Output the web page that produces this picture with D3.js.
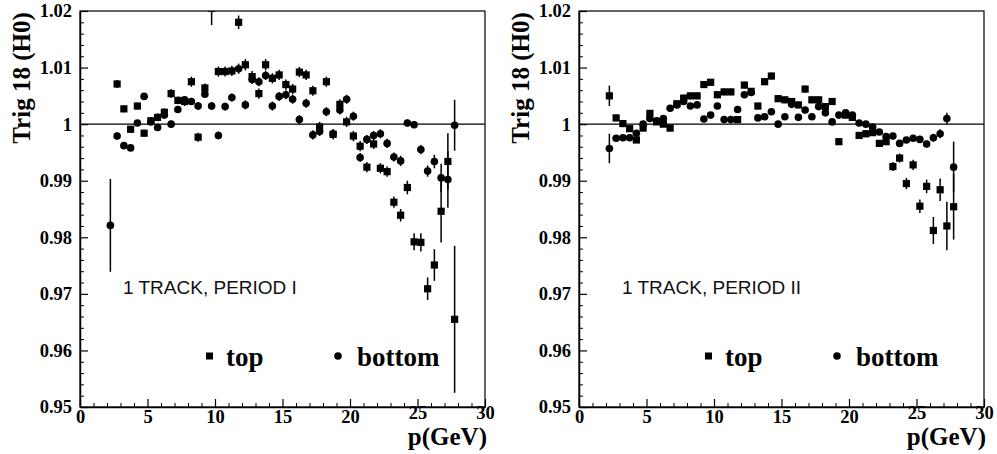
<!DOCTYPE html>
<html>
<head>
<meta charset="utf-8">
<script src="https://cdn.jsdelivr.net/npm/d3@7/dist/d3.min.js"></script>
<style>
  body { margin: 0; background: #fff; }
</style>
</head>
<body>
<div id="chart"></div>
<script>
// bin centres (GeV)
var pBins = [2.25,2.75,3.25,3.75,4.25,4.75,5.25,5.75,6.25,6.75,7.25,7.75,8.25,8.75,9.25,9.75,10.25,10.75,11.25,11.75,12.25,12.75,13.25,13.75,14.25,14.75,15.25,15.75,16.25,16.75,17.25,17.75,18.25,18.75,19.25,19.75,20.25,20.75,21.25,21.75,22.25,22.75,23.25,23.75,24.25,24.75,25.25,25.75,26.25,26.75,27.25,27.75];

// period I
var p1Top = [null,1.0071,1.0027,0.9991,1.0032,0.9984,1.0006,1.0012,1.0021,1.0054,1.0042,1.0040,1.0075,0.9977,1.0064,1.0205,1.0093,1.0093,1.0094,1.0180,1.0105,1.0084,1.0054,1.0105,1.0081,1.0087,1.0070,1.0062,1.0092,1.0087,1.0059,0.9995,1.0075,0.9982,1.0035,1.0004,0.9979,0.9961,0.9924,0.9965,0.9922,0.9916,0.9862,0.9839,0.9888,0.9792,0.9791,0.9709,0.9751,0.9846,0.9934,0.9655];
var p1TopErr = [null,0.0007,0.0006,0.0006,0.0006,0.0006,0.0006,0.0007,0.0007,0.0008,0.0007,0.0008,0.0009,0.0008,0.0008,0.003,0.0009,0.0009,0.0009,0.0012,0.001,0.001,0.0009,0.001,0.0009,0.0009,0.0009,0.0009,0.0009,0.0009,0.0009,0.0009,0.0009,0.0009,0.0009,0.0009,0.0009,0.0009,0.0009,0.0009,0.0009,0.0009,0.001,0.0011,0.0012,0.0015,0.0016,0.002,0.0028,0.0055,0.005,0.013];
var p1Bot = [0.9821,0.9979,0.9962,0.9958,1.0002,1.0049,1.0004,0.9994,1.0016,1.0000,1.0026,1.0043,1.0040,1.0032,1.0053,1.0032,0.9980,1.0031,1.0047,1.0098,1.0034,1.0079,1.0075,1.0086,1.0032,1.0049,1.0052,1.0044,1.0008,1.0037,0.9981,0.9987,1.0022,0.9983,1.0025,1.0044,1.0014,0.9941,0.9973,0.9980,0.9983,0.9966,0.9942,0.9935,1.0002,0.9999,0.9955,0.9917,0.9934,0.9905,0.9902,0.9998];
var p1BotErr = [0.0082,0.0006,0.0005,0.0005,0.0005,0.0006,0.0005,0.0005,0.0006,0.0006,0.0006,0.0006,0.0006,0.0007,0.0007,0.0007,0.0007,0.0007,0.0007,0.0009,0.0008,0.0008,0.0008,0.0008,0.0008,0.0008,0.0008,0.0008,0.0008,0.0008,0.0008,0.0008,0.0008,0.0008,0.0008,0.0008,0.0008,0.0008,0.0008,0.0008,0.0008,0.0008,0.0008,0.0009,0.0006,0.0006,0.0008,0.001,0.0012,0.0025,0.005,0.0045];

// period II
var p2Top = [1.0050,1.0011,1.0001,0.9992,0.9972,0.9993,1.0019,1.0004,1.0000,0.9993,1.0036,1.0046,1.0050,1.0050,1.0070,1.0074,1.0052,1.0057,1.0057,1.0008,1.0069,1.0058,1.0032,1.0075,1.0085,1.0045,1.0043,1.0040,1.0034,1.0062,1.0043,1.0043,1.0031,1.0040,0.9969,1.0016,1.0012,0.9980,0.9983,0.9985,0.9966,0.9969,0.9925,0.9940,0.9895,0.9928,0.9855,0.9890,0.9812,0.9884,0.9820,0.9854];
var p2TopErr = [0.0018,0.0006,0.0005,0.0005,0.0005,0.0005,0.0005,0.0005,0.0005,0.0005,0.0006,0.0006,0.0006,0.0006,0.0006,0.0006,0.0006,0.0006,0.0006,0.0006,0.0006,0.0006,0.0006,0.0006,0.0006,0.0006,0.0006,0.0006,0.0006,0.0006,0.0006,0.0006,0.0006,0.0006,0.0006,0.0006,0.0006,0.0006,0.0006,0.0006,0.0006,0.0006,0.0008,0.0008,0.001,0.0009,0.0012,0.0012,0.0024,0.002,0.0043,0.0058];
var p2Bot = [0.9957,0.9975,0.9976,0.9976,0.9984,1.0000,1.0010,1.0006,1.0010,1.0028,1.0034,1.0040,1.0032,1.0034,1.0009,1.0016,1.0032,1.0008,1.0008,1.0026,1.0052,1.0056,1.0011,1.0013,1.0022,1.0000,1.0013,1.0035,1.0012,1.0025,1.0013,1.0031,1.0020,1.0004,1.0016,1.0020,1.0016,1.0002,1.0000,0.9995,0.9986,0.9978,0.9979,0.9966,0.9972,0.9975,0.9973,0.9965,0.9976,0.9983,1.0010,0.9924];
var p2BotErr = [0.0026,0.0005,0.0005,0.0005,0.0005,0.0005,0.0005,0.0005,0.0005,0.0005,0.0005,0.0005,0.0005,0.0005,0.0005,0.0005,0.0005,0.0005,0.0005,0.0005,0.0005,0.0005,0.0005,0.0005,0.0005,0.0005,0.0005,0.0005,0.0005,0.0005,0.0005,0.0005,0.0005,0.0005,0.0005,0.0005,0.0005,0.0005,0.0005,0.0005,0.0005,0.0005,0.0005,0.0005,0.0005,0.0005,0.0006,0.0006,0.0007,0.0008,0.001,0.0045];

// axis ticks + labels
var yMajor = [0.95,0.96,0.97,0.98,0.99,1.00,1.01,1.02];
var yLabels = ["0.95","0.96","0.97","0.98","0.99","1","1.01","1.02"];
var yMinor = [0.952,0.954,0.956,0.958,0.962,0.964,0.966,0.968,0.972,0.974,0.976,0.978,0.982,0.984,0.986,0.988,0.992,0.994,0.996,0.998,1.002,1.004,1.006,1.008,1.012,1.014,1.016,1.018];
var xMajor = [0,5,10,15,20,25,30];
var xLabels = ["0","5","10","15","20","25","30"];
var xMinor = [1,2,3,4,6,7,8,9,11,12,13,14,16,17,18,19,21,22,23,24,26,27,28,29];

var panels = [
    { x0: 80,  label: "1 TRACK, PERIOD I",  top: p1Top, topErr: p1TopErr, bot: p1Bot, botErr: p1BotErr },
    { x0: 579, label: "1 TRACK, PERIOD II", top: p2Top, topErr: p2TopErr, bot: p2Bot, botErr: p2BotErr }
];

var width = 997, height = 454;
var plotW = 405, yTop = 11, yBot = 407;
var serif = "'Liberation Serif', 'DejaVu Serif', serif";

var svg = d3.select("#chart").append("svg")
    .attr("width", width)
    .attr("height", height);

var yScale = d3.scaleLinear().domain([0.95, 1.02]).range([yBot, yTop]);

function styleTicks(g) {
    g.selectAll(".tick text")
        .attr("fill", "#000")
        .style("font-family", serif)
        .style("font-weight", "bold")
        .style("font-size", "18.5px");
    g.selectAll(".tick line").attr("stroke-width", 1.2);
}

panels.forEach(function(pn, k) {
    var xScale = d3.scaleLinear().domain([0, 30]).range([pn.x0, pn.x0 + plotW]);

    svg.append("clipPath").attr("id", "clip" + k)
        .append("rect")
        .attr("x", pn.x0).attr("y", yTop)
        .attr("width", plotW).attr("height", yBot - yTop);

    // frame
    svg.append("rect")
        .attr("x", pn.x0).attr("y", yTop)
        .attr("width", plotW).attr("height", yBot - yTop)
        .attr("fill", "none").attr("stroke", "#000").attr("stroke-width", 1.2);

    // y axis (ticks point inside)
    var yAxis = d3.axisLeft(yScale)
        .tickValues(yMajor)
        .tickSize(-8).tickSizeOuter(0).tickPadding(8)
        .tickFormat(function(d, i) { return yLabels[i]; });
    var gy = svg.append("g").attr("transform", "translate(" + pn.x0 + ",0)").call(yAxis);
    gy.select(".domain").attr("stroke-width", 1.5);
    styleTicks(gy);
    svg.append("g").attr("transform", "translate(" + pn.x0 + ",0)")
        .call(d3.axisLeft(yScale).tickValues(yMinor).tickSize(-4).tickSizeOuter(0).tickFormat(""))
        .select(".domain").remove();

    // x axis
    var xAxis = d3.axisBottom(xScale)
        .tickValues(xMajor)
        .tickSize(-8).tickSizeOuter(0).tickPadding(3)
        .tickFormat(function(d, i) { return xLabels[i]; });
    var gx = svg.append("g").attr("transform", "translate(0," + yBot + ")").call(xAxis);
    gx.select(".domain").attr("stroke-width", 1.5);
    styleTicks(gx);
    // the last two labels sit a little higher, clear of the axis title
    gx.selectAll(".tick text").filter(function(d) { return d >= 25; }).attr("y", -1);
    svg.append("g").attr("transform", "translate(0," + yBot + ")")
        .call(d3.axisBottom(xScale).tickValues(xMinor).tickSize(-4).tickSizeOuter(0).tickFormat(""))
        .select(".domain").remove();

    // reference line at 1
    svg.append("line")
        .attr("x1", xScale(0)).attr("x2", xScale(30))
        .attr("y1", yScale(1)).attr("y2", yScale(1))
        .attr("stroke", "#000").attr("stroke-width", 1.2);

    // axis titles
    svg.append("text")
        .attr("transform", "translate(" + (pn.x0 - 50) + "," + 78 + ") rotate(-90)")
        .attr("text-anchor", "middle")
        .style("font-family", serif).style("font-weight", "bold").style("font-size", "25px")
        .text("Trig 18 (H0)");
    svg.append("text")
        .attr("x", xScale(30) + 2).attr("y", 445)
        .attr("text-anchor", "end")
        .style("font-family", serif).style("font-weight", "bold").style("font-size", "25px")
        .text("p(GeV)");

    // data
    var g = svg.append("g").attr("clip-path", "url(#clip" + k + ")");
    var rows = [];
    pBins.forEach(function(p, i) {
        if (pn.top[i] != null) rows.push({ p: p, v: pn.top[i], e: pn.topErr[i], kind: "top" });
        if (pn.bot[i] != null) rows.push({ p: p, v: pn.bot[i], e: pn.botErr[i], kind: "bottom" });
    });

    g.selectAll("line.err").data(rows).enter().append("line")
        .attr("class", "err")
        .attr("x1", function(d) { return xScale(d.p); })
        .attr("x2", function(d) { return xScale(d.p); })
        .attr("y1", function(d) { return yScale(d.v - d.e); })
        .attr("y2", function(d) { return yScale(d.v + d.e); })
        .attr("stroke", "#000").attr("stroke-width", 1.5);

    g.selectAll("rect.top").data(rows.filter(function(d) { return d.kind == "top"; }))
        .enter().append("rect")
        .attr("class", "top")
        .attr("x", function(d) { return xScale(d.p) - 3.6; })
        .attr("y", function(d) { return yScale(d.v) - 3.6; })
        .attr("width", 7.2).attr("height", 7.2)
        .attr("fill", "#000");

    g.selectAll("circle.bottom").data(rows.filter(function(d) { return d.kind == "bottom"; }))
        .enter().append("circle")
        .attr("class", "bottom")
        .attr("cx", function(d) { return xScale(d.p); })
        .attr("cy", function(d) { return yScale(d.v); })
        .attr("r", 3.8)
        .attr("fill", "#000");

    // annotation
    svg.append("text")
        .attr("x", pn.x0 + 43).attr("y", 294)
        .style("font-family", "'Liberation Sans', Arial, sans-serif").style("font-size", "19px")
        .attr("fill", "#111")
        .text(pn.label);

    // legend
    svg.append("rect")
        .attr("x", pn.x0 + 126).attr("y", 352.5)
        .attr("width", 7).attr("height", 7).attr("fill", "#000");
    svg.append("text")
        .attr("x", pn.x0 + 146).attr("y", 366)
        .style("font-family", serif).style("font-weight", "bold").style("font-size", "27px")
        .text("top");
    svg.append("circle")
        .attr("cx", pn.x0 + 258).attr("cy", 356).attr("r", 3.8).attr("fill", "#000");
    svg.append("text")
        .attr("x", pn.x0 + 277).attr("y", 366)
        .style("font-family", serif).style("font-weight", "bold").style("font-size", "27px")
        .text("bottom");
});
</script>
</body>
</html>
